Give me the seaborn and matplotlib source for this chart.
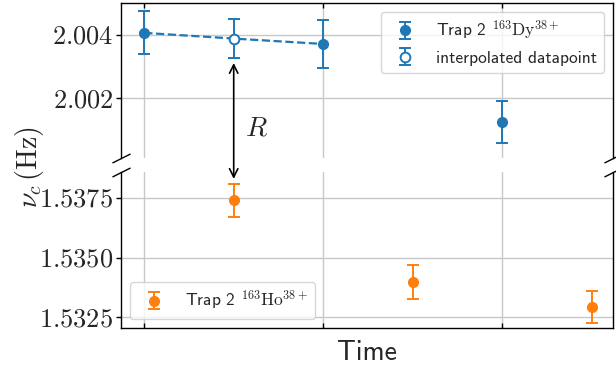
import matplotlib
matplotlib.use("Agg")
import matplotlib.pyplot as plt
from matplotlib.patches import ConnectionPatch
import seaborn as sns

# ---------------- data ----------------
dy_time = [0.0, 1.0, 2.0]
dy_freq = [2.00406, 2.00371, 2.00126]
dy_err = [0.00068, 0.00076, 0.00067]

interp_time = [0.5]
interp_freq = [2.00388]
interp_err = [0.00062]

ho_time = [0.5, 1.5, 2.5]
ho_freq = [1.53740, 1.53397, 1.53292]
ho_err = [0.00069, 0.00070, 0.00068]

time_ticks = [0, 1, 2]
top_yticks = [2.002, 2.004]
top_ytick_labels = ["$2.002$", "$2.004$"]
bottom_yticks = [1.5325, 1.5350, 1.5375]
bottom_ytick_labels = ["$1.5325$", "$1.5350$", "$1.5375$"]

dy_label = r"Trap 2 $^{163}\mathrm{Dy}^{38+}$"
interp_label = "interpolated datapoint"
ho_label = r"Trap 2 $^{163}\mathrm{Ho}^{38+}$"
x_label = "Time"
y_label = r"$\nu_c\,(\mathrm{Hz})$"
r_label = r"$R$"

# ---------------- style ----------------
sns.set_style("whitegrid")
plt.rcParams["font.family"] = ["cmss10", "DejaVu Sans"]
plt.rcParams["mathtext.fontset"] = "cm"
plt.rcParams["axes.unicode_minus"] = False
plt.rcParams["axes.formatter.use_mathtext"] = True

pal = sns.color_palette("tab10")
blue, orange = pal[0], pal[1]

W, H = 616, 372
fig = plt.figure(figsize=(W / 100, H / 100), dpi=100)
L, R = 121, 613
ax1 = fig.add_axes([L / W, 1 - 158 / H, (R - L) / W, (158 - 3) / H])
ax2 = fig.add_axes([L / W, 1 - 328 / H, (R - L) / W, (328 - 172) / H])

# dashed connecting line (measured - interpolated - measured)
line_time = [dy_time[0]] + interp_time + [dy_time[1]]
line_freq = [dy_freq[0]] + interp_freq + [dy_freq[1]]
sns.lineplot(x=line_time, y=line_freq, ax=ax1, color=blue, linestyle="--",
             linewidth=1.6, zorder=2, legend=False, sort=False)

eb_kw = dict(fmt="o", markersize=7, capsize=4, elinewidth=1.4, capthick=1.4, zorder=3)
ax1.errorbar(dy_time, dy_freq, yerr=dy_err, color=blue, label=dy_label, **eb_kw)
ax1.errorbar(interp_time, interp_freq, yerr=interp_err, color=blue,
             markerfacecolor="white", markeredgewidth=1.4, label=interp_label, **eb_kw)
ax2.errorbar(ho_time, ho_freq, yerr=ho_err, color=orange, label=ho_label, **eb_kw)

for ax in (ax1, ax2):
    ax.set_xlim(-0.13, 2.62)
    ax.set_xticks(time_ticks)
    ax.set_xticklabels([])
    ax.grid(True, color="#c8c8c8", linewidth=1.0)
    for s in ax.spines.values():
        s.set_color("black")
        s.set_linewidth(1.0)
    ax.tick_params(axis="y", which="major", direction="out", length=3.5, width=1.0,
                   color="black", labelsize=19, pad=2, left=True)
    ax.tick_params(axis="x", which="major", direction="in", length=3.5, width=1.0,
                   color="black")

ax1.set_ylim(2.00012, 2.0050)
ax1.set_yticks(top_yticks)
ax1.set_yticklabels(top_ytick_labels)
ax2.set_ylim(1.53204, 1.53859)
ax2.set_yticks(bottom_yticks)
ax2.set_yticklabels(bottom_ytick_labels)

ax1.spines["bottom"].set_visible(False)
ax2.spines["top"].set_visible(False)
ax1.tick_params(axis="x", top=True, bottom=False)
ax2.tick_params(axis="x", top=False, bottom=True)

# break marks
d = 0.5
kw = dict(marker=[(-1, -d), (1, d)], markersize=13, linestyle="none",
          color="k", mec="k", mew=1.0, clip_on=False)
ax1.plot([0, 1], [0, 0], transform=ax1.transAxes, **kw)
ax2.plot([0, 1], [1, 1], transform=ax2.transAxes, **kw)

# R arrow between interpolated Dy point and Ho point
con = ConnectionPatch(xyA=(interp_time[0], 2.00311), coordsA=ax1.transData,
                      xyB=(ho_time[0], 1.53830), coordsB=ax2.transData,
                      arrowstyle="<->", mutation_scale=15, color="black",
                      linewidth=1.2, zorder=5)
fig.add_artist(con)
ax1.text(0.63, 2.00105, r_label, fontsize=20, ha="center", va="center")

ax1.legend(loc="upper right", fontsize=12.5, framealpha=0.8, edgecolor="#cccccc",
           fancybox=True, borderaxespad=0.5)
ax2.legend(loc="lower left", fontsize=12.5, framealpha=0.8, edgecolor="#cccccc",
           fancybox=True, borderaxespad=0.5)

ax2.set_xlabel(x_label, fontsize=20, labelpad=5.5)
fig.text(30 / W, 1 - 167 / H, y_label, rotation=90, fontsize=20,
         ha="center", va="center")

fig.savefig("out.png", dpi=100)
